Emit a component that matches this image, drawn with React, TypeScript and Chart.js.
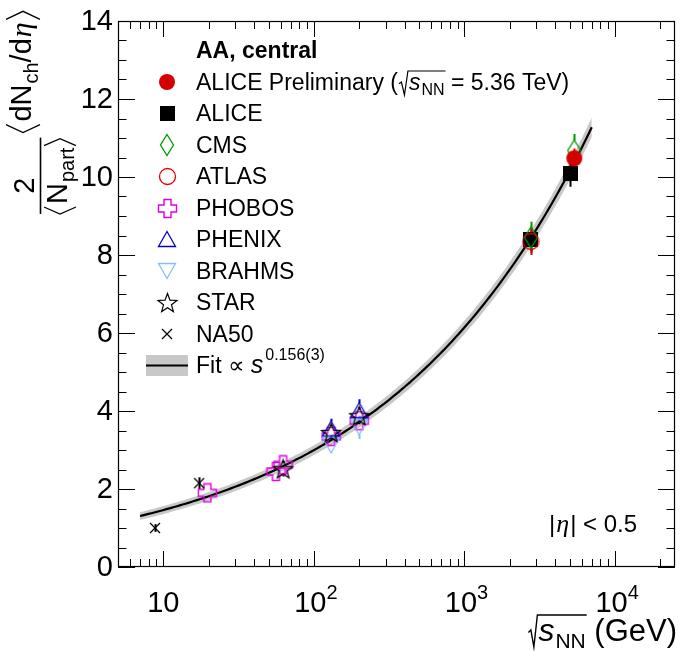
import { useEffect, useRef } from "react";
import { Chart, registerables } from "chart.js";

Chart.register(...registerables);

// sqrt(s_NN) in GeV, and 2/<Npart> <dNch/deta> with its uncertainty, per experiment
const ALICE_PRELIM_ENERGY = [5360];
const ALICE_PRELIM_VALUE = [10.48];
const ALICE_PRELIM_ERROR = [0.25];

const ALICE_ENERGY = [2760, 5020];
const ALICE_VALUE = [8.4, 10.1];
const ALICE_ERROR = [0.3, 0.35];

const CMS_ENERGY = [2760, 5360];
const CMS_VALUE = [8.45, 10.68];
const CMS_ERROR = [0.4, 0.42];

const ATLAS_ENERGY = [2760];
const ATLAS_VALUE = [8.35];
const ATLAS_ERROR = [0.35];

const PHOBOS_ENERGY = [19.6, 56, 62.4, 130, 200];
const PHOBOS_VALUE = [1.9, 2.45, 2.62, 3.35, 3.75];
const PHOBOS_ERROR = [0.12, 0.15, 0.15, 0.18, 0.2];

const PHENIX_ENERGY = [130, 200];
const PHENIX_VALUE = [3.55, 4.02];
const PHENIX_ERROR = [0.25, 0.28];

const BRAHMS_ENERGY = [130, 200];
const BRAHMS_VALUE = [3.12, 3.58];
const BRAHMS_ERROR = [0.2, 0.3];

const STAR_ENERGY = [62.4, 130, 200];
const STAR_VALUE = [2.52, 3.45, 3.88];
const STAR_ERROR = [0.2, 0.2, 0.22];

const NA50_ENERGY = [8.8, 17.3];
const NA50_VALUE = [1.0, 2.15];
const NA50_ERROR = [0.1, 0.15];

// Power-law fit  a * s^b  with its uncertainty band
const FIT_NORM = 0.712;
const FIT_EXPONENT = 0.156;
const FIT_RANGE = [7, 7000];
const FIT_BAND_ABS = 0.08;
const FIT_BAND_REL = 0.015;
const FIT_SAMPLES = 160;

// Axes
const X_MIN = 5;
const X_MAX = 25000;
const Y_MIN = 0;
const Y_MAX = 14;
const Y_LABELS = [0, 2, 4, 6, 8, 10, 12, 14];
const X_DECADE_EXPONENTS = [1, 2, 3, 4];

const SANS = '"Liberation Sans", Arial, Helvetica, "DejaVu Sans", sans-serif';
const SERIF = '"Liberation Serif", "DejaVu Serif", serif';

type Paint = (c: CanvasRenderingContext2D, w: number, h: number) => void;

function markerCanvas(w: number, h: number, paint: Paint): HTMLCanvasElement {
  const cv = document.createElement("canvas");
  cv.width = w;
  cv.height = h;
  const c = cv.getContext("2d")!;
  paint(c, w, h);
  return cv;
}

function buildMarkers() {
  const filledCircle = (color: string, r: number) =>
    markerCanvas(2 * r + 2, 2 * r + 2, (c, w, h) => {
      c.fillStyle = color;
      c.beginPath();
      c.arc(w / 2, h / 2, r, 0, Math.PI * 2);
      c.fill();
    });
  const filledSquare = (color: string, s: number) =>
    markerCanvas(s, s, (c) => {
      c.fillStyle = color;
      c.fillRect(0, 0, s, s);
    });
  const openCircle = (color: string, r: number) =>
    markerCanvas(2 * r + 3, 2 * r + 3, (c, w, h) => {
      c.strokeStyle = color;
      c.lineWidth = 1.3;
      c.beginPath();
      c.arc(w / 2, h / 2, r, 0, Math.PI * 2);
      c.stroke();
    });
  const openDiamond = (color: string, dw: number, dh: number) =>
    markerCanvas(dw + 3, dh + 3, (c, w, h) => {
      c.strokeStyle = color;
      c.lineWidth = 1.3;
      c.beginPath();
      c.moveTo(w / 2, h / 2 - dh / 2);
      c.lineTo(w / 2 + dw / 2, h / 2);
      c.lineTo(w / 2, h / 2 + dh / 2);
      c.lineTo(w / 2 - dw / 2, h / 2);
      c.closePath();
      c.stroke();
    });
  const openPlus = (color: string, s: number, a: number) =>
    markerCanvas(s + 3, s + 3, (c, w, h) => {
      const cx = w / 2;
      const cy = h / 2;
      const o = s / 2;
      c.strokeStyle = color;
      c.lineWidth = 1.4;
      c.beginPath();
      c.moveTo(cx - a, cy - o);
      c.lineTo(cx + a, cy - o);
      c.lineTo(cx + a, cy - a);
      c.lineTo(cx + o, cy - a);
      c.lineTo(cx + o, cy + a);
      c.lineTo(cx + a, cy + a);
      c.lineTo(cx + a, cy + o);
      c.lineTo(cx - a, cy + o);
      c.lineTo(cx - a, cy + a);
      c.lineTo(cx - o, cy + a);
      c.lineTo(cx - o, cy - a);
      c.lineTo(cx - a, cy - a);
      c.closePath();
      c.stroke();
    });
  const openTriangle = (color: string, tw: number, th: number, up: boolean) =>
    markerCanvas(tw + 3, th + 3, (c, w, h) => {
      const cx = w / 2;
      const cy = h / 2;
      const s = up ? 1 : -1;
      c.strokeStyle = color;
      c.lineWidth = 1.3;
      c.beginPath();
      c.moveTo(cx, cy - (s * th) / 2);
      c.lineTo(cx + tw / 2, cy + (s * th) / 2);
      c.lineTo(cx - tw / 2, cy + (s * th) / 2);
      c.closePath();
      c.stroke();
    });
  const openStar = (color: string, R: number, r: number) =>
    markerCanvas(2 * R + 3, 2 * R + 3, (c, w, h) => {
      c.strokeStyle = color;
      c.lineWidth = 1.2;
      c.beginPath();
      for (let i = 0; i < 10; i++) {
        const ang = -Math.PI / 2 + (i * Math.PI) / 5;
        const rad = i % 2 === 0 ? R : r;
        const px = w / 2 + rad * Math.cos(ang);
        const py = h / 2 + 1 + rad * Math.sin(ang);
        if (i === 0) c.moveTo(px, py);
        else c.lineTo(px, py);
      }
      c.closePath();
      c.stroke();
    });
  const xCross = (color: string, s: number) =>
    markerCanvas(s + 2, s + 2, (c, w, h) => {
      c.strokeStyle = color;
      c.lineWidth = 1.3;
      c.beginPath();
      c.moveTo(w / 2 - s / 2, h / 2 - s / 2);
      c.lineTo(w / 2 + s / 2, h / 2 + s / 2);
      c.moveTo(w / 2 + s / 2, h / 2 - s / 2);
      c.lineTo(w / 2 - s / 2, h / 2 + s / 2);
      c.stroke();
    });

  return {
    alicePrelim: filledCircle("#d40000", 8),
    alice: filledSquare("#000000", 15),
    cms: openDiamond("#009900", 13, 21),
    atlas: openCircle("#e00000", 8),
    phobos: openPlus("#e000e0", 18, 3.5),
    phenix: openTriangle("#0000cc", 17, 15, true),
    brahms: openTriangle("#88bbff", 17, 15, false),
    star: openStar("#000000", 10, 4.2),
    na50: xCross("#000000", 10),
  };
}

type Series = {
  label: string;
  energy: number[];
  value: number[];
  error: number[];
  color: string;
  marker: keyof ReturnType<typeof buildMarkers>;
  gap: number;
  order: number;
};

const SERIES: Series[] = [
  { label: "ALICE Preliminary", energy: ALICE_PRELIM_ENERGY, value: ALICE_PRELIM_VALUE, error: ALICE_PRELIM_ERROR, color: "#d40000", marker: "alicePrelim", gap: 0, order: 0 },
  { label: "ALICE", energy: ALICE_ENERGY, value: ALICE_VALUE, error: ALICE_ERROR, color: "#000000", marker: "alice", gap: 0, order: 8 },
  { label: "CMS", energy: CMS_ENERGY, value: CMS_VALUE, error: CMS_ERROR, color: "#009900", marker: "cms", gap: 10, order: 7 },
  { label: "ATLAS", energy: ATLAS_ENERGY, value: ATLAS_VALUE, error: ATLAS_ERROR, color: "#e00000", marker: "atlas", gap: 8, order: 6 },
  { label: "PHOBOS", energy: PHOBOS_ENERGY, value: PHOBOS_VALUE, error: PHOBOS_ERROR, color: "#e000e0", marker: "phobos", gap: 9, order: 5 },
  { label: "PHENIX", energy: PHENIX_ENERGY, value: PHENIX_VALUE, error: PHENIX_ERROR, color: "#0000cc", marker: "phenix", gap: 7, order: 4 },
  { label: "BRAHMS", energy: BRAHMS_ENERGY, value: BRAHMS_VALUE, error: BRAHMS_ERROR, color: "#88bbff", marker: "brahms", gap: 7, order: 3 },
  { label: "STAR", energy: STAR_ENERGY, value: STAR_VALUE, error: STAR_ERROR, color: "#000000", marker: "star", gap: 6, order: 2 },
  { label: "NA50", energy: NA50_ENERGY, value: NA50_VALUE, error: NA50_ERROR, color: "#000000", marker: "na50", gap: 0, order: 1 },
];

function fitValue(sqrtS: number) {
  return FIT_NORM * Math.pow(sqrtS * sqrtS, FIT_EXPONENT);
}

function fitEnergies() {
  const out: number[] = [];
  for (let i = 0; i < FIT_SAMPLES; i++) {
    out.push(FIT_RANGE[0] * Math.pow(FIT_RANGE[1] / FIT_RANGE[0], i / (FIT_SAMPLES - 1)));
  }
  return out;
}

type Run = { t: string; f: string; dy?: number; dx?: number };

function runsWidth(ctx: CanvasRenderingContext2D, runs: Run[]) {
  let w = 0;
  for (const r of runs) {
    ctx.font = r.f;
    w += ctx.measureText(r.t).width + (r.dx || 0);
  }
  return w;
}

function drawRuns(ctx: CanvasRenderingContext2D, x: number, y: number, runs: Run[]) {
  let cx = x;
  for (const r of runs) {
    ctx.font = r.f;
    cx += r.dx || 0;
    ctx.fillText(r.t, cx, y + (r.dy || 0));
    cx += ctx.measureText(r.t).width;
  }
  return cx;
}

// square-root sign: returns x where the radicand starts
function drawRadical(ctx: CanvasRenderingContext2D, x: number, baseline: number, h: number, radicandWidth: number, lw: number) {
  const top = baseline - h;
  const start = x + 10;
  ctx.save();
  ctx.lineWidth = lw;
  ctx.lineJoin = "miter";
  ctx.beginPath();
  ctx.moveTo(x, baseline - h * 0.42);
  ctx.lineTo(x + 2.5, baseline - h * 0.5);
  ctx.lineTo(x + 5.5, baseline + 2);
  ctx.lineTo(start - 1, top);
  ctx.lineTo(start + radicandWidth + 1, top);
  ctx.stroke();
  ctx.restore();
  return start;
}

// angle bracket drawn in the current (possibly rotated) frame
function drawAngle(ctx: CanvasRenderingContext2D, u: number, vTop: number, vBot: number, w: number, opening: boolean) {
  const mid = (vTop + vBot) / 2;
  ctx.beginPath();
  if (opening) {
    ctx.moveTo(u + w, vTop);
    ctx.lineTo(u, mid);
    ctx.lineTo(u + w, vBot);
  } else {
    ctx.moveTo(u, vTop);
    ctx.lineTo(u + w, mid);
    ctx.lineTo(u, vBot);
  }
  ctx.stroke();
}

export default function App() {
  const ref = useRef<HTMLCanvasElement>(null);

  useEffect(() => {
    const canvas = ref.current!;
    const markers = buildMarkers();
    const energies = fitEnergies();
    const fitPts = energies.map((e) => ({ x: e, y: fitValue(e) }));
    const bandHi = energies.map((e) => {
      const v = fitValue(e);
      return { x: e, y: v + FIT_BAND_ABS + FIT_BAND_REL * v };
    });
    const bandLo = energies.map((e) => {
      const v = fitValue(e);
      return { x: e, y: v - FIT_BAND_ABS - FIT_BAND_REL * v };
    });

    const dataSets: any[] = [
      { type: "line", label: "band-hi", data: bandHi, borderWidth: 0, pointRadius: 0, fill: "+1", backgroundColor: "#c8c8c8", borderColor: "rgba(0,0,0,0)", order: 30 },
      { type: "line", label: "band-lo", data: bandLo, borderWidth: 0, pointRadius: 0, fill: false, borderColor: "rgba(0,0,0,0)", order: 29 },
      { type: "line", label: "fit", role: "fit", data: fitPts, borderWidth: 2.2, borderColor: "#000", pointRadius: 0, fill: false, order: 20 },
    ];
    for (const s of SERIES) {
      dataSets.push({
        type: "scatter",
        label: s.label,
        data: s.energy.map((e, i) => ({ x: e, y: s.value[i] })),
        errors: s.error,
        gap: s.gap,
        errColor: s.color,
        pointStyle: markers[s.marker],
        pointRadius: 6,
        order: s.order,
      });
    }

    const errorBars = {
      id: "errorBars",
      afterDatasetDraw(chart: any, args: any) {
        const ds = chart.data.datasets[args.index];
        if (ds.role !== "fit") return;
        const ctx = chart.ctx;
        const yScale = chart.scales.y;
        ctx.save();
        chart.data.datasets.forEach((d: any, di: number) => {
          if (!d.errors) return;
          const meta = chart.getDatasetMeta(di);
          ctx.strokeStyle = d.errColor;
          ctx.lineWidth = 2;
          meta.data.forEach((pt: any, i: number) => {
            const val = d.data[i].y;
            const err = d.errors[i];
            const yHi = yScale.getPixelForValue(val + err);
            const yLo = yScale.getPixelForValue(val - err);
            const x = Math.round(pt.x) + 0.5;
            ctx.beginPath();
            if (d.gap > 0) {
              if (pt.y - d.gap > yHi) {
                ctx.moveTo(x, yHi);
                ctx.lineTo(x, pt.y - d.gap);
              }
              if (pt.y + d.gap < yLo) {
                ctx.moveTo(x, pt.y + d.gap);
                ctx.lineTo(x, yLo);
              }
            } else {
              ctx.moveTo(x, yHi);
              ctx.lineTo(x, yLo);
            }
            ctx.stroke();
          });
        });
        ctx.restore();
      },
    };

    const decorations = {
      id: "decorations",
      afterDraw(chart: any) {
        const ctx: CanvasRenderingContext2D = chart.ctx;
        const { left, right, top, bottom } = chart.chartArea;
        const xs = chart.scales.x;
        const ys = chart.scales.y;
        ctx.save();
        ctx.fillStyle = "#000";
        ctx.strokeStyle = "#000";

        // frame
        ctx.lineWidth = 1.2;
        ctx.strokeRect(left + 0.5, top + 0.5, right - left - 1, bottom - top - 1);

        // y ticks on both sides
        ctx.lineWidth = 1;
        for (let v = Y_MIN; v <= Y_MAX + 1e-9; v += 0.5) {
          const y = Math.round(ys.getPixelForValue(v)) + 0.5;
          const len = Math.abs(v % 2) < 1e-9 ? 17 : 8.5;
          ctx.beginPath();
          ctx.moveTo(left, y);
          ctx.lineTo(left + len, y);
          ctx.moveTo(right, y);
          ctx.lineTo(right - len, y);
          ctx.stroke();
        }
        // x ticks (log), bottom and top
        for (let d = 0; d <= 4; d++) {
          for (let k = 1; k <= 9; k++) {
            const val = k * Math.pow(10, d);
            if (val < X_MIN || val > X_MAX) continue;
            const x = Math.round(xs.getPixelForValue(val)) + 0.5;
            const len = k === 1 ? 16 : 8;
            ctx.beginPath();
            ctx.moveTo(x, bottom);
            ctx.lineTo(x, bottom - len);
            ctx.moveTo(x, top);
            ctx.lineTo(x, top + len);
            ctx.stroke();
          }
        }

        // y tick labels
        ctx.font = `29px ${SANS}`;
        ctx.textAlign = "right";
        ctx.textBaseline = "middle";
        for (const v of Y_LABELS) {
          ctx.fillText(String(v), left - 5, ys.getPixelForValue(v) + 1);
        }

        // x tick labels
        ctx.textAlign = "left";
        ctx.textBaseline = "alphabetic";
        for (const p of X_DECADE_EXPONENTS) {
          const runs: Run[] = [{ t: "10", f: `29px ${SANS}` }];
          if (p !== 1) runs.push({ t: String(p), f: `20px ${SANS}`, dy: -13 });
          const w = runsWidth(ctx, runs);
          const x = xs.getPixelForValue(Math.pow(10, p));
          drawRuns(ctx, x - w / 2 + (p === 1 ? 0 : 2), 612, runs);
        }

        // x axis title: sqrt(s_NN) (GeV)
        {
          const base = 641;
          const radicand: Run[] = [
            { t: "s", f: `italic 32px ${SANS}` },
            { t: "NN", f: `21px ${SANS}`, dy: 7, dx: 1 },
          ];
          const tail: Run[] = [{ t: " (GeV)", f: `31px ${SANS}` }];
          const rw = runsWidth(ctx, radicand);
          const tw = runsWidth(ctx, tail);
          const total = 10 + rw + tw;
          const x0 = 677 - total;
          const start = drawRadical(ctx, x0, base + 4, 30, rw, 1.4);
          const after = drawRuns(ctx, start, base, radicand);
          drawRuns(ctx, after, base, tail);
        }

        // y axis title, rotated: 2/<N_part> <dN_ch/deta>
        {
          ctx.save();
          ctx.rotate(-Math.PI / 2);
          ctx.lineWidth = 1.3;
          const big = `29px ${SANS}`;
          const sub = `20px ${SANS}`;
          // denominator <N_part>
          let u = -214;
          drawAngle(ctx, u, 44, 76, 7, true);
          u += 10;
          u = drawRuns(ctx, u, 67, [
            { t: "N", f: big },
            { t: "part", f: sub, dy: 7, dx: 1 },
          ]);
          u += 2;
          drawAngle(ctx, u, 44, 76, 7, false);
          const fracEnd = u + 8;
          // fraction bar
          ctx.lineWidth = 1.6;
          ctx.beginPath();
          ctx.moveTo(-214, 40.5);
          ctx.lineTo(fracEnd, 40.5);
          ctx.stroke();
          // numerator
          ctx.font = big;
          ctx.textAlign = "center";
          ctx.fillText("2", (-214 + fracEnd) / 2 - 10, 34);
          ctx.textAlign = "left";
          // <dN_ch/deta>
          ctx.lineWidth = 1.3;
          u = fracEnd + 5;
          drawAngle(ctx, u, 6, 40, 8, true);
          u += 11;
          u = drawRuns(ctx, u, 31, [
            { t: "dN", f: big },
            { t: "ch", f: sub, dy: 7, dx: 1 },
            { t: "/d", f: big },
            { t: "\u03b7", f: `italic 30px ${SERIF}`, dx: 1 },
          ]);
          u += 3;
          drawAngle(ctx, u, 6, 40, 8, false);
          ctx.restore();
        }

        // legend
        {
          const mx = 167;
          const tx = 196;
          const rows = [82, 113, 145, 176, 208, 239, 271, 302, 334, 365];
          const f = `23px ${SANS}`;
          ctx.textAlign = "left";
          ctx.textBaseline = "alphabetic";
          ctx.font = `bold 23px ${SANS}`;
          ctx.fillText("AA, central", tx, 50 + 8);

          SERIES.forEach((s, i) => {
            const yc = rows[i];
            const m = markers[s.marker];
            ctx.drawImage(m, Math.round(mx - m.width / 2), Math.round(yc - m.height / 2));
            ctx.font = f;
            if (i === 0) {
              let x = drawRuns(ctx, tx, yc + 8, [{ t: "ALICE Preliminary (", f }]);
              const radicand: Run[] = [
                { t: "s", f: `italic 23px ${SANS}` },
                { t: "NN", f: `16px ${SANS}`, dy: 5, dx: 1 },
              ];
              const rw = runsWidth(ctx, radicand);
              x = drawRadical(ctx, x + 1, yc + 11, 22, rw, 1.2);
              x = drawRuns(ctx, x, yc + 8, radicand);
              drawRuns(ctx, x, yc + 8, [{ t: " = 5.36 TeV)", f }]);
            } else {
              ctx.fillText(s.label, tx, yc + 8);
            }
          });

          // fit entry
          const yf = rows[9];
          ctx.fillStyle = "#c8c8c8";
          ctx.fillRect(146, yf - 10, 42, 21);
          ctx.strokeStyle = "#000";
          ctx.lineWidth = 2.2;
          ctx.beginPath();
          ctx.moveTo(146, yf + 0.5);
          ctx.lineTo(188, yf + 0.5);
          ctx.stroke();
          ctx.fillStyle = "#000";
          drawRuns(ctx, tx, yf + 8, [
            { t: "Fit \u221d ", f },
            { t: "s", f: `italic 25px ${SANS}` },
            { t: "0.156(3)", f: `16px ${SANS}`, dy: -13, dx: 2 },
          ]);
        }

        // |eta| < 0.5
        drawRuns(ctx, 549, 532, [
          { t: "|", f: `24px ${SANS}` },
          { t: "\u03b7", f: `italic 26px ${SERIF}`, dx: 1 },
          { t: "|", f: `24px ${SANS}`, dx: 1 },
          { t: " < 0.5", f: `24px ${SANS}` },
        ]);

        ctx.restore();
      },
    };

    const chart = new Chart(canvas, {
      type: "scatter",
      data: { datasets: dataSets },
      options: {
        animation: false,
        responsive: false,
        devicePixelRatio: 1,
        layout: { padding: { top: 21, right: 2, left: 0, bottom: 0 } },
        plugins: { legend: { display: false }, tooltip: { enabled: false } },
        scales: {
          x: {
            type: "logarithmic",
            min: X_MIN,
            max: X_MAX,
            ticks: { display: false },
            grid: { display: false },
            border: { display: false },
            afterFit: (s: any) => {
              s.height = 84;
            },
          },
          y: {
            type: "linear",
            min: Y_MIN,
            max: Y_MAX,
            ticks: { display: false },
            grid: { display: false },
            border: { display: false },
            afterFit: (s: any) => {
              s.width = 118;
            },
          },
        },
      } as any,
      plugins: [errorBars, decorations],
    });
    return () => chart.destroy();
  }, []);

  return (
    <div style={{ position: "absolute", left: 0, top: 0, width: 682, height: 651, background: "#fff" }}>
      <canvas ref={ref} width={682} height={651} style={{ display: "block", width: 682, height: 651 }} />
    </div>
  );
}
